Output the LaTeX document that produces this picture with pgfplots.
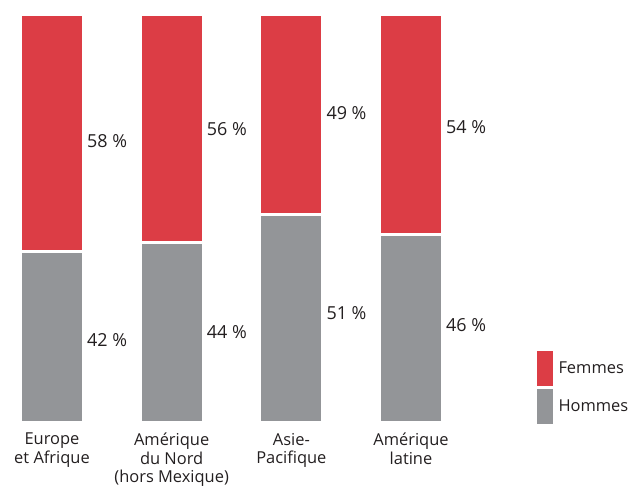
\documentclass[border=0pt]{standalone}
\usepackage{pgfplots}
\pgfplotsset{compat=1.18}
\usepackage{fontspec}
\setmainfont{Open Sans}
\definecolor{fred}{RGB}{220,61,69}
\definecolor{mgray}{RGB}{147,149,152}
\definecolor{txt}{RGB}{35,31,32}
\begin{document}
\begin{tikzpicture}[x=1bp,y=1bp]
\path[use as bounding box] (0,-62.5) rectangle (629,423.5);
\pgfplotsset{commonax/.style={
  scale only axis, width=629bp, height=410bp,
  xmin=-0.4344, xmax=4.8216, ymin=-0.366, ymax=100.366,
  at={(0,0)}, anchor=south west, clip=false,
}}
\begin{axis}[commonax,
  ybar stacked, bar width=63bp,
  axis line style={draw=none}, major tick style={draw=none},
  ytick=\empty, xtick={0,1,2,3},
  xticklabels={{Europe\\et Afrique},{Amérique\\du Nord\\(hors Mexique)},{Asie-\\Pacifique},{Amérique\\latine}},
  xticklabel style={align=center, font=\fontsize{16.5}{18.5}\selectfont, text=txt, yshift=-6bp},
  reverse legend,
  legend style={draw=none, fill=none, at={(537bp,72.5bp)}, anchor=north west, inner sep=0pt, outer sep=0pt,
    font=\fontsize{16.5}{18}\selectfont, text=txt, row sep=3bp,
    /tikz/every even column/.append style={column sep=0pt}},
  legend cell align=left,
  legend image code/.code={\fill[#1, draw=none] (0bp,-17.5bp) rectangle (16bp,17.5bp); \path (16bp,0) -- (18bp,0);},
]
\addplot[fill=mgray, draw=white, line width=3bp] coordinates {(0,42) (1,44) (2,51) (3,46)};
\addlegendentry{Hommes}
\addplot[fill=fred, draw=white, line width=3bp] coordinates {(0,58) (1,56) (2,49) (3,54)};
\addlegendentry{Femmes}
\end{axis}
\begin{axis}[commonax, hide axis,
  nodes near coords, point meta=explicit symbolic,
  nodes near coords style={anchor=west, xshift=35bp, font=\fontsize{18}{20}\selectfont, text=txt, inner sep=0pt},
]
\addplot[only marks, mark=none] coordinates {
  (0,20.2) [42 \%] (0,68.9) [58 \%]
  (1,22.2) [44 \%] (1,72.0) [56 \%]
  (2,26.7) [51 \%] (2,76.0) [49 \%]
  (3,23.8) [46 \%] (3,72.4) [54 \%]
};
\end{axis}
\end{tikzpicture}
\end{document}
